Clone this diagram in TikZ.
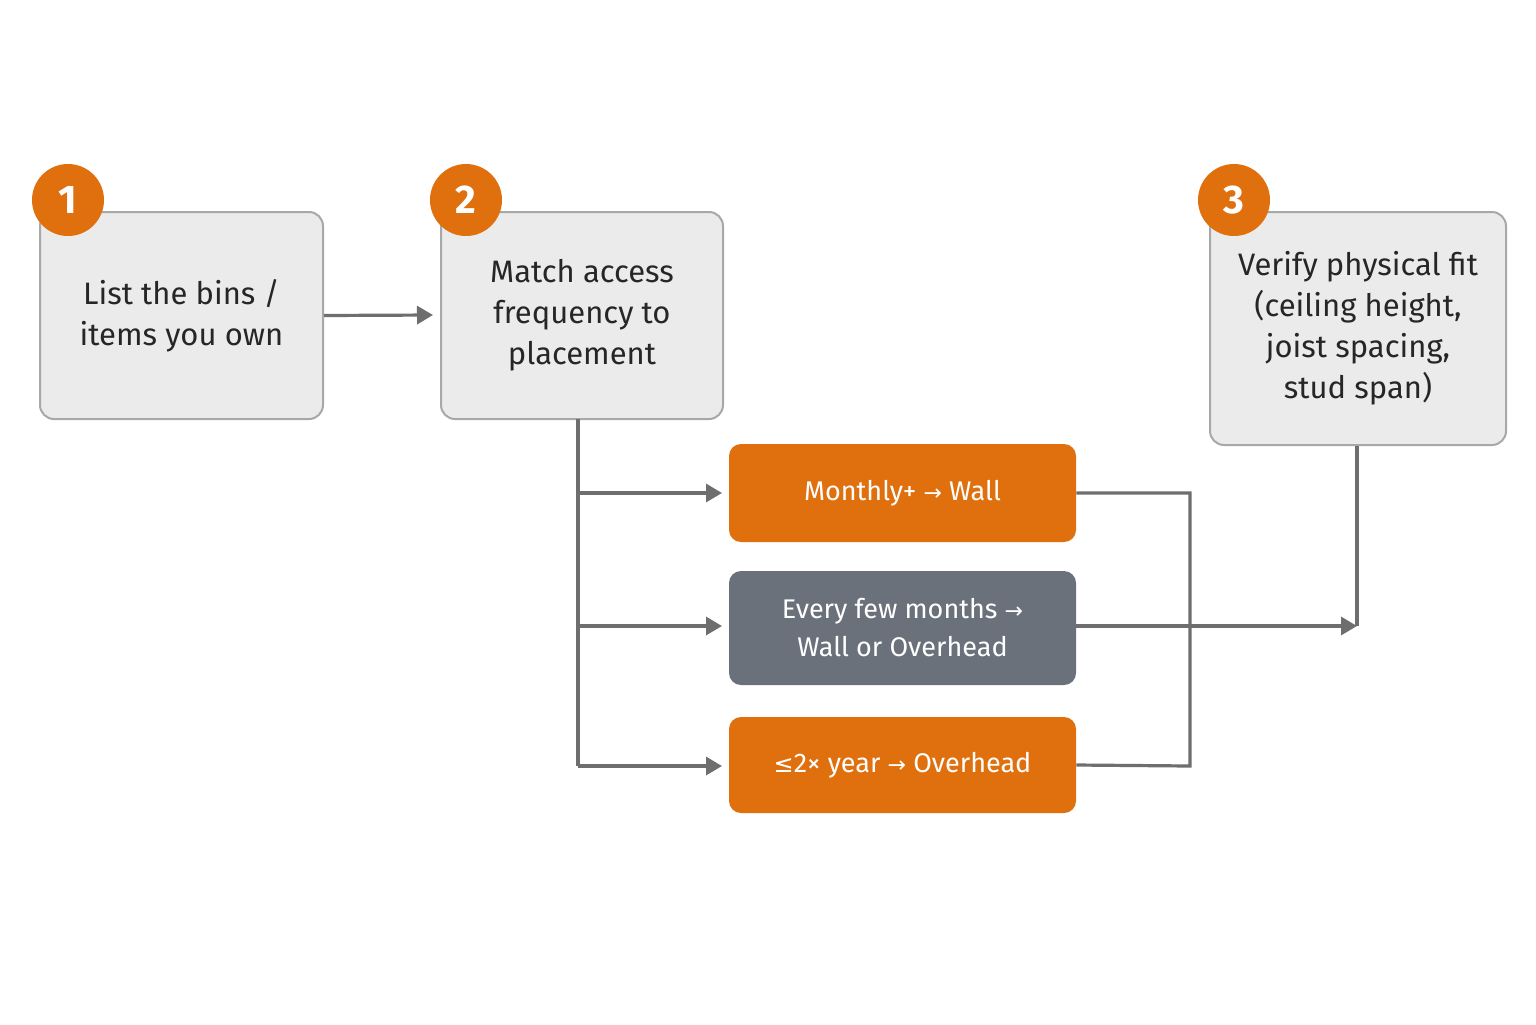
\documentclass[tikz,border=0pt]{standalone}
\usepackage{fontspec}
\setmainfont{Fira Sans}
\newfontfamily\symf{DejaVu Sans}
\usetikzlibrary{arrows.meta}
\definecolor{og}{HTML}{E0700E}
\definecolor{gb}{HTML}{6B717B}
\definecolor{lg}{HTML}{EBEBEB}
\definecolor{bd}{HTML}{A8A8A8}
\definecolor{ln}{HTML}{6E6E6E}
\newcommand{\ar}{{\symf\fontsize{11}{12}\selectfont →}}
\begin{document}
\begin{tikzpicture}[x=0.5pt,y=-0.5pt,
 stepbox/.style={draw=bd,line width=1pt,fill=lg,rounded corners=7pt,align=center,font=\fontsize{15.5}{20.5}\selectfont,text=black!85},
 opt/.style={fill=og,rounded corners=6pt,align=center,text=white,font=\fontsize{13.5}{19}\selectfont},
 num/.style={circle,fill=og,minimum size=36pt,inner sep=0pt,text=white,font=\fontsize{20}{20}\selectfont\bfseries},
 conn/.style={draw=ln,line width=1.6pt},
 arr/.style={conn,-{Triangle[length=8pt,width=9pt]}}]
\useasboundingbox[fill=white] (0,0) rectangle (1536,1024);
\node[stepbox,minimum width=141.5pt,minimum height=103.5pt] (b1) at (181.5,315.5) {List the bins /\\items you own};
\node[stepbox,minimum width=141pt,minimum height=103.5pt] (b2) at (582,315.5) {Match access\\frequency to\\placement};
\node[stepbox,minimum width=148pt,minimum height=116.5pt] (b3) at (1358,328.5) {Verify physical fit\\(ceiling height,\\joist spacing,\\stud span)};
\node[num] (n1) at (68,200) {1};
\node[num] (n2) at (466,200) {2};
\node[num] (n3) at (1234,200) {3};
\node[opt,minimum width=173.5pt,minimum height=49pt] (o1) at (902.5,493) {Monthly+ \ar{} Wall};
\node[opt,fill=gb,minimum width=173.5pt,minimum height=57pt] (o2) at (902.5,628) {Every few months \ar\\Wall or Overhead};
\node[opt,minimum width=173.5pt,minimum height=48pt] (o3) at (902.5,765) {{\symf\fontsize{12}{12}\selectfont ≤}2× year \ar{} Overhead};
\coordinate (s) at (578,419);
\coordinate (t) at (1357,626);
\draw[arr] (b1.east) -- (433,315);
\draw[conn] (s) -- (578,766);
\draw[arr] (578,493) -- (722,493);
\draw[arr] (578,626) -- (722,626);
\draw[arr] (578,766) -- (722,766);
\draw[conn] (o1.east) -- (1190,493) -- (1190,766) -- (o3.east);
\draw[arr] (1076,626) -- (t);
\draw[conn] (b3.south -| t) -- (t);
\end{tikzpicture}
\end{document}
